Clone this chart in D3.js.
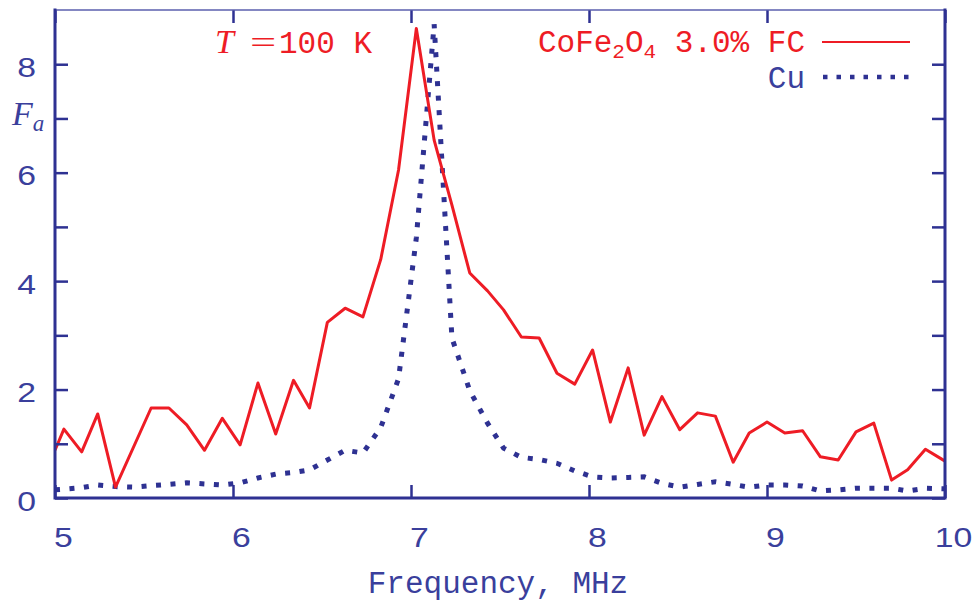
<!DOCTYPE html>
<html>
<head>
<meta charset="utf-8">
<script src="https://cdn.jsdelivr.net/npm/d3@7"></script>
<style>
  body { margin: 0; background: #fff; }
  svg { display: block; }
</style>
</head>
<body>
<svg id="chart" width="973" height="603"></svg>
<script>
// Axis ticks
const xTicks = [5, 6, 7, 8, 9, 10];
const yTicks = [0, 1, 2, 3, 4, 5, 6, 7, 8];
const yTickLabels = [0, 2, 4, 6, 8];

// CoFe2O4 3.0% FC, T = 100 K
const cofeFreq = [5.00, 5.05, 5.15, 5.24, 5.34, 5.54, 5.64, 5.74, 5.84, 5.94,
  6.04, 6.14, 6.24, 6.34, 6.43, 6.53, 6.63, 6.73, 6.83, 6.93,
  7.03, 7.13, 7.23, 7.33, 7.43, 7.52, 7.62, 7.72, 7.82, 7.92,
  8.02, 8.12, 8.22, 8.31, 8.41, 8.51, 8.61, 8.71, 8.81, 8.90,
  9.00, 9.10, 9.20, 9.30, 9.40, 9.50, 9.60, 9.70, 9.79, 9.89, 10.00];
const cofeFa = [0.88, 1.27, 0.85, 1.55, 0.20, 1.66, 1.66, 1.35, 0.88, 1.47,
  0.98, 2.12, 1.18, 2.17, 1.66, 3.24, 3.50, 3.34, 4.40, 6.05,
  8.66, 6.60, 5.40, 4.15, 3.82, 3.47, 2.97, 2.95, 2.30, 2.10,
  2.73, 1.40, 2.40, 1.16, 1.87, 1.26, 1.57, 1.51, 0.66, 1.20,
  1.40, 1.20, 1.24, 0.76, 0.70, 1.22, 1.38, 0.33, 0.52, 0.90, 0.68];

// Cu reference
const cuFreq = [5.00, 5.05, 5.15, 5.24, 5.34, 5.44, 5.54, 5.64, 5.74, 5.84,
  5.94, 6.04, 6.14, 6.24, 6.34, 6.43, 6.53, 6.63, 6.73, 6.83,
  6.93, 7.03, 7.13, 7.23, 7.33, 7.43, 7.52, 7.62, 7.72, 7.82,
  7.92, 8.02, 8.12, 8.22, 8.31, 8.41, 8.51, 8.61, 8.71, 8.81,
  8.90, 9.00, 9.10, 9.20, 9.30, 9.40, 9.50, 9.60, 9.70, 9.79, 9.89, 10.00];
const cuFa = [0.15, 0.16, 0.19, 0.24, 0.21, 0.20, 0.23, 0.25, 0.28, 0.26,
  0.24, 0.28, 0.37, 0.44, 0.47, 0.52, 0.70, 0.88, 0.83, 1.30,
  2.20, 4.80, 8.74, 2.95, 1.98, 1.38, 0.92, 0.75, 0.71, 0.64,
  0.50, 0.39, 0.37, 0.38, 0.39, 0.27, 0.20, 0.25, 0.30, 0.25,
  0.20, 0.24, 0.24, 0.22, 0.13, 0.15, 0.18, 0.18, 0.18, 0.13, 0.18, 0.17];

const BLUE = "#2e3192";
const TEXT_BLUE = "#3a3f9c";
const RED = "#ee1c25";

const W = 973, H = 603;
const L = 55, R = 945, T = 10, B = 498;

const svg = d3.select("#chart");
const x = d3.scaleLinear().domain([5, 10]).range([L, R]);
const y = d3.scaleLinear().domain([0, 9]).range([B, T]);

svg.append("defs").append("clipPath").attr("id", "plot-clip")
  .append("rect").attr("x", L).attr("y", T).attr("width", R - L).attr("height", B - T);

const line = d3.line().x(d => x(d[0])).y(d => y(d[1]));

const plot = svg.append("g").attr("clip-path", "url(#plot-clip)");

// Cu: thick dotted curve
plot.append("path")
  .datum(d3.zip(cuFreq, cuFa))
  .attr("d", line)
  .attr("fill", "none")
  .attr("stroke", BLUE)
  .attr("stroke-width", 5)
  .attr("stroke-dasharray", "5 9.5");

// CoFe2O4: solid red curve
plot.append("path")
  .datum(d3.zip(cofeFreq, cofeFa))
  .attr("d", line)
  .attr("fill", "none")
  .attr("stroke", RED)
  .attr("stroke-width", 3)
  .attr("stroke-linejoin", "round");

// Axes with inward ticks
function styleAxis(g) {
  g.select(".domain").remove();
  g.selectAll(".tick line").attr("stroke", BLUE).attr("stroke-width", 2.5);
}

const sx = 1.25; // horizontal stretch of tick labels

const gBottom = svg.append("g").attr("transform", `translate(0,${B})`)
  .call(d3.axisBottom(x).tickValues(xTicks).tickSizeInner(-13).tickSizeOuter(0).tickFormat(d3.format("d")));
styleAxis(gBottom);
gBottom.selectAll(".tick text")
  .attr("y", 0).attr("dy", 0)
  .attr("transform", `translate(8,49) scale(${sx},1)`)
  .attr("fill", TEXT_BLUE)
  .style("font-family", "'Liberation Sans', Arial, sans-serif")
  .style("font-size", "27px");

const gTop = svg.append("g").attr("transform", `translate(0,${T})`)
  .call(d3.axisTop(x).tickValues(xTicks).tickSizeInner(-13).tickSizeOuter(0).tickFormat(""));
styleAxis(gTop);

const gLeft = svg.append("g").attr("transform", `translate(${L},0)`)
  .call(d3.axisLeft(y).tickValues(yTicks).tickSizeInner(-13).tickSizeOuter(0)
    .tickFormat(d => yTickLabels.includes(d) ? d : ""));
styleAxis(gLeft);
gLeft.selectAll(".tick text")
  .attr("x", 0).attr("dy", 0)
  .attr("text-anchor", "end")
  .attr("transform", `translate(-19,12) scale(${sx},1)`)
  .attr("fill", TEXT_BLUE)
  .style("font-family", "'Liberation Sans', Arial, sans-serif")
  .style("font-size", "27px");

const gRight = svg.append("g").attr("transform", `translate(${R},0)`)
  .call(d3.axisRight(y).tickValues(yTicks).tickSizeInner(-13).tickSizeOuter(0).tickFormat(""));
styleAxis(gRight);

// Frame: thin top edge, heavy left/bottom/right edges
svg.append("line").attr("x1", L).attr("x2", R).attr("y1", T).attr("y2", T)
  .attr("stroke", "#5b5fae").attr("stroke-width", 1.5);
svg.append("path")
  .attr("d", `M${L},${T}V${B}H${R}V${T}`)
  .attr("fill", "none").attr("stroke", BLUE).attr("stroke-width", 3)
  .attr("stroke-linecap", "square");

// Axis titles
svg.append("text")
  .attr("x", 498).attr("y", 593)
  .attr("text-anchor", "middle")
  .attr("fill", TEXT_BLUE)
  .style("font-family", "'Liberation Mono', 'DejaVu Sans Mono', monospace")
  .style("font-size", "31px")
  .text("Frequency, MHz");

const fa = svg.append("text")
  .attr("x", 12).attr("y", 125)
  .attr("fill", TEXT_BLUE)
  .style("font-family", "'Liberation Serif', 'DejaVu Serif', serif")
  .style("font-style", "italic")
  .style("font-size", "34px");
fa.append("tspan").text("F");
fa.append("tspan").attr("dy", 6).style("font-size", "23px").text("a");

// Temperature annotation
svg.append("text")
  .attr("x", 215).attr("y", 53)
  .attr("fill", RED)
  .style("font-family", "'Liberation Serif', 'DejaVu Serif', serif")
  .style("font-style", "italic")
  .style("font-size", "34px")
  .text("T");
svg.append("text")
  .attr("transform", "translate(250,53) scale(1.5,1)")
  .attr("fill", RED)
  .style("font-family", "'Liberation Serif', 'DejaVu Serif', serif")
  .style("font-size", "31px")
  .text("=");
svg.append("text")
  .attr("x", 279).attr("y", 53)
  .attr("fill", RED)
  .style("font-family", "'Liberation Mono', 'DejaVu Sans Mono', monospace")
  .style("font-size", "31px")
  .text("100 K");

// Legend
const legendFont = "'Liberation Mono', 'DejaVu Sans Mono', monospace";
const lg1 = svg.append("text")
  .attr("x", 805).attr("y", 52)
  .attr("text-anchor", "end")
  .attr("fill", RED)
  .style("font-family", legendFont)
  .style("font-size", "31px");
lg1.append("tspan").text("CoFe");
lg1.append("tspan").attr("dy", 6).style("font-size", "21px").text("2");
lg1.append("tspan").attr("dy", -6).text("O");
lg1.append("tspan").attr("dy", 6).style("font-size", "21px").text("4");
lg1.append("tspan").attr("dy", -6).text(" 3.0% FC");

svg.append("line")
  .attr("x1", 822).attr("x2", 910).attr("y1", 42).attr("y2", 42)
  .attr("stroke", RED).attr("stroke-width", 1.8);

svg.append("text")
  .attr("x", 805).attr("y", 88)
  .attr("text-anchor", "end")
  .attr("fill", TEXT_BLUE)
  .style("font-family", legendFont)
  .style("font-size", "31px")
  .text("Cu");

svg.append("line")
  .attr("x1", 823).attr("x2", 915).attr("y1", 77).attr("y2", 77)
  .attr("stroke", BLUE).attr("stroke-width", 4.5)
  .attr("stroke-dasharray", "4.5 9");
</script>
</body>
</html>
